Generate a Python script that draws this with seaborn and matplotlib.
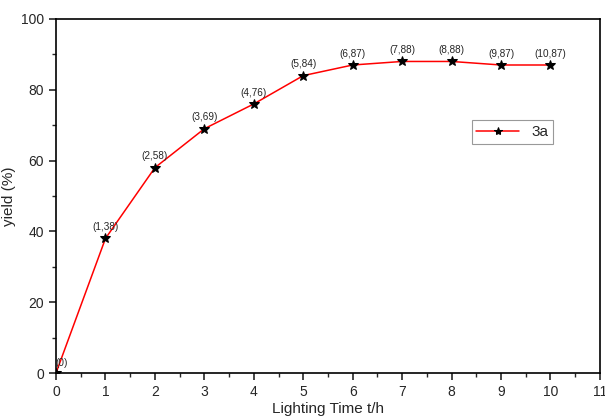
import numpy as np
import matplotlib
matplotlib.use("Agg")
import matplotlib.pyplot as plt
import seaborn as sns
import pandas as pd

# Data
time_h = [0, 1, 2, 3, 4, 5, 6, 7, 8, 9, 10]
yield_pct = [0, 38, 58, 69, 76, 84, 87, 88, 88, 87, 87]
point_labels = ["(0)", "(1,38)", "(2,58)", "(3,69)", "(4,76)", "(5,84)",
                "(6,87)", "(7,88)", "(8,88)", "(9,87)", "(10,87)"]

df = pd.DataFrame({"t": time_h, "y": yield_pct, "series": "3a"})

sns.set_style("ticks")
plt.rcParams["font.family"] = ["Liberation Sans", "DejaVu Sans"]

fig = plt.figure(figsize=(6.05, 4.17), dpi=100)
ax = fig.add_axes([0.0926, 0.1055, 0.899, 0.849])

sns.lineplot(data=df, x="t", y="y", hue="series", palette=["red"], marker="*",
             markersize=7.5, markerfacecolor="black", markeredgecolor="black",
             linewidth=1.1, ax=ax)

# point labels
for t, y, lab in zip(time_h, yield_pct, point_labels):
    if t == 0:
        ax.annotate(lab, (t, y), xytext=(4, 5), textcoords="offset points",
                    ha="center", fontsize=7.2)
    else:
        ax.annotate(lab, (t, y), xytext=(0, 6), textcoords="offset points",
                    ha="center", fontsize=7.2)

ax.set_xlim(0, 11)
ax.set_ylim(0, 100)
ax.set_xticks(range(0, 12))
ax.set_xticks(np.arange(0.5, 11, 1), minor=True)
ax.set_yticks(range(0, 101, 20))
ax.set_yticks(range(10, 100, 20), minor=True)
ax.tick_params(axis="both", which="major", labelsize=10, length=5, width=1.2, direction="out")
ax.tick_params(axis="both", which="minor", length=3, width=1, direction="out")
for s in ax.spines.values():
    s.set_linewidth(1.2)
    s.set_color("black")

ax.set_xlabel("Lighting Time t/h", fontsize=11, labelpad=2)
ax.set_ylabel("yield (%)", fontsize=11)

leg = ax.legend(loc="upper left", bbox_to_anchor=(0.75, 0.735), fontsize=11,
                frameon=True, fancybox=False, handlelength=2.8, borderpad=0.3,
                markerscale=0.8)
leg.get_frame().set_edgecolor("gray")
leg.get_frame().set_linewidth(0.8)

fig.savefig("out.png", dpi=100)
